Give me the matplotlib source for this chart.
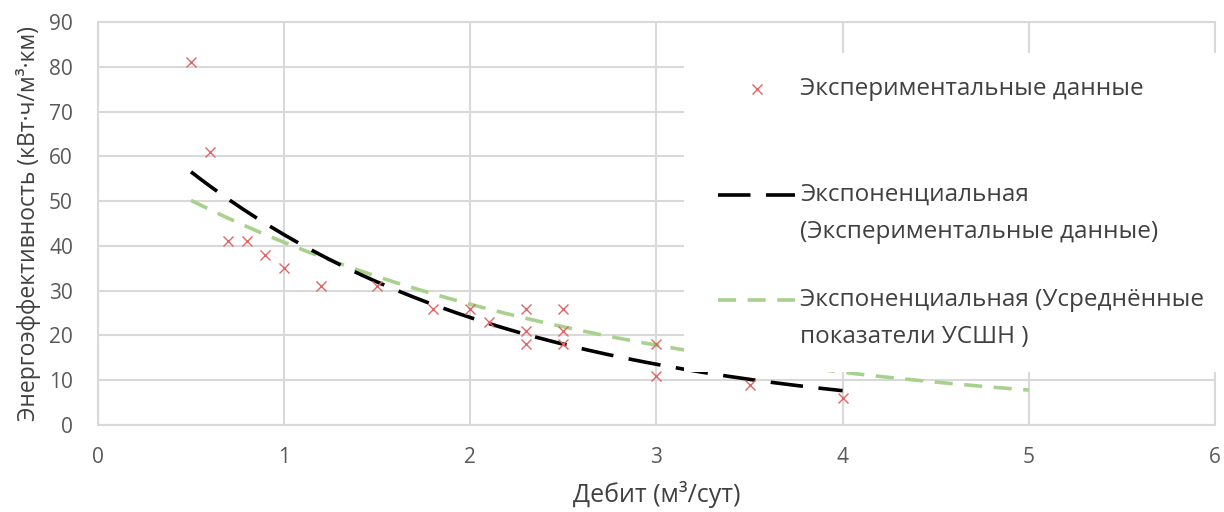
import numpy as np
import matplotlib
matplotlib.use("Agg")
import matplotlib.pyplot as plt
from matplotlib.lines import Line2D
from matplotlib.patches import Rectangle

plt.rcParams['font.family'] = ['Open Sans', 'DejaVu Sans']

# measured points: flow rate (m3/day) vs specific energy
debit = [0.5, 0.6, 0.7, 0.8, 0.9, 1.0, 1.2, 1.5, 1.8, 2.0, 2.1,
         2.3, 2.3, 2.3, 2.5, 2.5, 2.5, 3.0, 3.0, 3.5, 4.0]
energy = [81, 61, 41, 41, 38, 35, 31, 31, 26, 26, 23,
          26, 21, 18, 26, 21, 18, 18, 11, 9, 6]

# exponential trend of the averaged USSHN figures: y = a * exp(b * x)
avg_a = 61.7
avg_b = -0.414
avg_range = (0.5, 5.0)

label_pts = ['Экспериментальные данные']
label_exp = ['Экспоненциальная', '(Экспериментальные данные)']
label_avg = ['Экспоненциальная (Усреднённые', 'показатели УСШН )']

grey_txt = '#595959'
grid_c = '#d9d9d9'
red_c = '#e06666'
green_c = '#a9d18e'

fig = plt.figure(figsize=(12.24, 5.12), dpi=100)
ax = fig.add_axes([0.080, 0.170, 0.9126, 0.787])

# exponential fit of the measured points (least squares on log y)
b_fit, ln_a = np.polyfit(debit, np.log(energy), 1)
xs = np.linspace(min(debit), max(debit), 200)
ax.plot(xs, np.exp(ln_a) * np.exp(b_fit * xs), color='black', lw=2.6,
        dashes=(9, 4.3), zorder=3)

xa = np.linspace(avg_range[0], avg_range[1], 200)
ax.plot(xa, avg_a * np.exp(avg_b * xa), color=green_c, lw=2.6,
        dashes=(5, 3.2), zorder=2)

ax.plot(debit, energy, ls='none', marker='x', color=red_c, ms=7.5, mew=1.0,
        zorder=4)

ax.set_xlim(0, 6)
ax.set_ylim(0, 90)
ax.set_xticks(range(0, 7))
ax.set_yticks(range(0, 91, 10))
ax.grid(True, color=grid_c, lw=1.5)
ax.set_axisbelow(True)
for s in ax.spines.values():
    s.set_color(grid_c)
    s.set_linewidth(1.5)
ax.tick_params(length=0, labelsize=15, labelcolor=grey_txt)
ax.tick_params(axis='x', pad=16)
ax.tick_params(axis='y', pad=18)

ax.set_xlabel('Дебит (м³/сут)', fontsize=18, color='#404040', labelpad=9)
ax.set_ylabel('Энергоэффективность (кВт·ч/м³·км)', fontsize=16.5,
              color='#404040', labelpad=6)

# legend drawn by hand so handles sit on the first text line
W, H = fig.get_size_inches() * fig.dpi
def fx(px):
    return px / W
def fy(py):
    return 1 - py / H

fig.patches.append(Rectangle((fx(684), fy(372)), fx(1222) - fx(684),
                             fy(53) - fy(372), transform=fig.transFigure,
                             facecolor='white', edgecolor='none', zorder=5))
fig.lines.append(Line2D([fx(757)], [fy(89)], transform=fig.transFigure,
                        ls='none', marker='x', color=red_c, ms=7, mew=1.0,
                        zorder=6))
fig.lines.append(Line2D([fx(718), fx(795)], [fy(195), fy(195)],
                        transform=fig.transFigure, color='black', lw=2.6,
                        dashes=(9, 4.3), zorder=6))
fig.lines.append(Line2D([fx(718), fx(795)], [fy(300), fy(300)],
                        transform=fig.transFigure, color=green_c, lw=2.6,
                        dashes=(5, 3.2), zorder=6))
for lines, py in [(label_pts, 89), (label_exp, 195), (label_avg, 300)]:
    for k, txt in enumerate(lines):
        fig.text(fx(800), fy(py + 37 * k), txt, fontsize=17.5, color='#404040',
                 va='center', ha='left', zorder=7, transform=fig.transFigure)

fig.savefig('out.png', dpi=100)
